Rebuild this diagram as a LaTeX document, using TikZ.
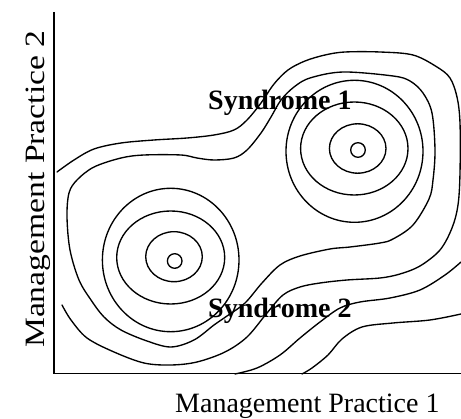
\documentclass[tikz,border=0pt]{standalone}
\usepackage{fontspec}
\setmainfont{Liberation Serif}
\begin{document}
\begin{tikzpicture}[x=1pt,y=-1pt,
  contour/.style={line width=1.35pt, line join=round, line cap=round},
  axisline/.style={line width=1.6pt},
  lbl/.style={inner sep=0pt, font=\fontsize{28}{30}\selectfont},
  synd/.style={inner sep=0pt, font=\fontsize{28}{30}\selectfont\bfseries}]
\useasboundingbox (0,0) rectangle (461,419);
% axes
\coordinate (top) at (54,12);
\coordinate (orig) at (54,373.5);
\coordinate (right) at (461,373.5);
\draw[axisline] (top) -- (orig) -- (right);
% labels
\node[lbl, anchor=base west] (xlab) at (175,412.7) {Management Practice 1};
\node[lbl, anchor=base west, rotate=90] (ylab) at (45,348) {\scalebox{1.2}[1]{Management Practice 2}};
\node[synd, anchor=base west] (s1) at (208,110) {Syndrome 1};
\node[synd, anchor=base west] (s2) at (208,318) {Syndrome 2};
% right cluster
\draw[contour] (358,150) circle[radius=7.3];
\draw[contour] (357.7,148.5) ellipse[x radius=28.3, y radius=24.7];
\draw[contour] (354.3,148.5) ellipse[x radius=53.7, y radius=46.5];
\draw[contour] (354.5,151.3) ellipse[x radius=68.5, y radius=71];
% left cluster
\draw[contour] (174.7,261) circle[radius=7.3];
\draw[contour] (174,256.7) ellipse[x radius=28.3, y radius=25];
\draw[contour] (170.7,257.5) ellipse[x radius=54, y radius=46.5];
\draw[contour] (170.7,260) ellipse[x radius=68.3, y radius=71.7];
% contour B (closed)
\draw[contour] plot[smooth cycle, tension=0.55] coordinates {
 (69,193) (77,180) (94,167) (121,158) (144,155) (181,155) (197,158) (214,160)
 (234,158) (247,150) (261,133) (271,117) (281,100) (294,87) (310,78) (343,72)
 (393,76) (410,81) (423,93) (432,113) (435,150) (433,180) (429,199) (413,225)
 (393,239) (380,243) (350,247) (330,249) (300,256) (280,265) (262,283) (245,303)
 (227,316) (214,325) (194,340) (171,347) (147,341) (121,330) (104,317) (91,300)
 (79,280) (70,250) (67,217)};
% contour A (open)
\draw[contour] plot[smooth, tension=0.55] coordinates {
 (57,172) (74,160) (94,149) (121,143) (154,140) (187,138) (214,135) (234,130)
 (247,120) (261,103) (274,84) (288,70) (305,61) (325,55) (345,52) (380,52)
 (413,55) (437,67) (450,78) (457,97) (460,123) (460,173) (458,205) (452,228)
 (440,250) (420,266) (400,274) (380,278) (347,280) (320,283) (300,287) (283,295)
 (267,313) (247,337) (225,352) (197,362) (171,365) (144,363) (114,352) (87,338)
 (71,320) (62,305)};
% contour C
\draw[contour] plot[smooth, tension=0.55] coordinates {
 (461,262) (445,275) (420,290) (390,298) (360,302) (340,308) (320,322)
 (300,338) (280,355) (257,368) (235,374)};
% contour D
\draw[contour] plot[smooth, tension=0.55] coordinates {
 (461,314) (430,320) (393,323) (362,327) (342,339) (328,355) (312,368) (302,374)};
\end{tikzpicture}
\end{document}
